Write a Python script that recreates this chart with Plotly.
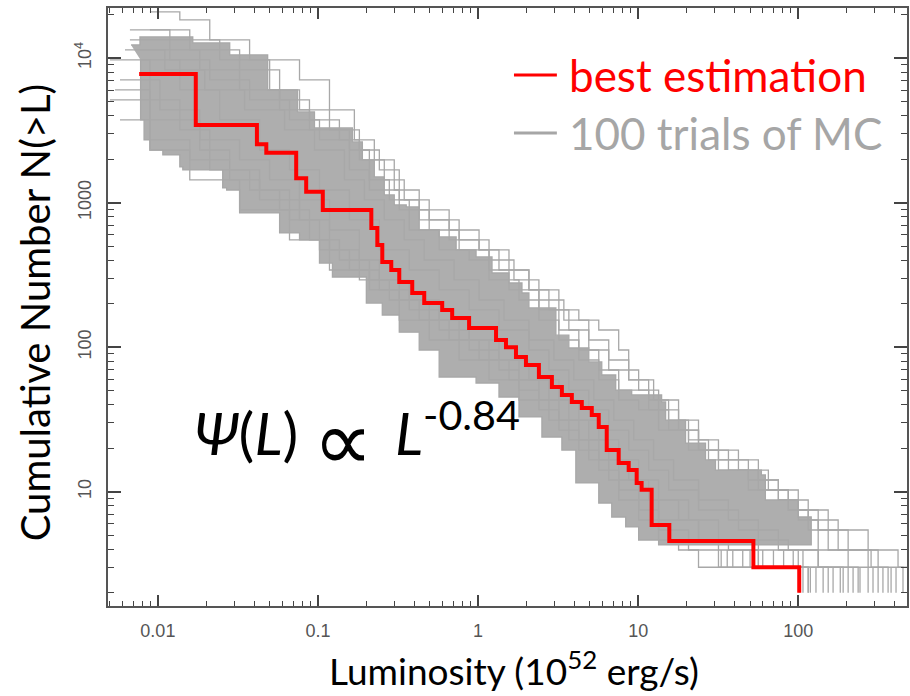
import plotly.graph_objects as go

# ---------------- data ----------------
# best estimation: step curve, (L at which each level starts, N level)
RED_L = [0.00764, 0.01725, 0.04156, 0.04756, 0.0731, 0.0844, 0.1072, 0.2154, 0.2348,
         0.2522, 0.2870, 0.3220, 0.388, 0.461, 0.597, 0.689, 0.879, 1.295, 1.494, 1.725,
         1.991, 2.399, 2.891, 3.338, 3.852, 4.446, 5.132, 5.674, 6.363, 7.557, 8.726,
         9.788, 10.51, 12.14, 15.65, 52.45, 101.4]
RED_N = [7780, 3450, 2537, 2218, 1475, 1192, 890, 668, 510,
         389, 342, 283, 237, 202, 181, 159, 136, 112, 100, 85.5,
         75.3, 62.2, 53.0, 46.7, 41.8, 37.9, 33.9, 28.0, 19.4, 15.8, 14.1,
         11.5, 10.3, 5.88, 4.56, 3.0, 2.0]

# dense core of the 100 Monte-Carlo trials (outline of the grey band)
BAND_L = [0.0068, 0.00773, 0.01473, 0.01652, 0.0281, 0.0485, 0.0745, 0.0951, 0.1641,
          0.1894, 0.2249, 0.2596, 0.2996, 0.3559, 0.4289, 0.5715, 0.7295, 0.9716, 1.222,
          1.56, 1.88, 2.078, 3.062, 3.69, 4.916, 5.924, 7.24, 9.111, 14.01, 14.84, 19.77,
          26.34, 30.4, 58.83, 62.3, 100, 120.5, 120.5,
          17.88, 13.42, 10.07, 8.358, 6.837, 5.674, 4.08, 3.338, 2.505, 1.801, 1.351,
          0.9716, 0.5715, 0.4289, 0.322, 0.2522, 0.2005, 0.1231, 0.1022, 0.0767, 0.0576,
          0.0339, 0.0324, 0.0269, 0.0254, 0.01431, 0.01371, 0.01074, 0.00892, 0.0082,
          0.0078]
BAND_N = [12340, 14020, 14020, 12741, 10522, 6026, 4243, 3289, 2630,
          1975, 1506, 1131, 964, 934, 647, 579, 471, 421, 326,
          278, 237, 187, 121, 98.7, 79.0, 64.2, 50.5, 46.7, 41.8, 31.3, 21.7,
          16.6, 14.1, 13.05, 8.76, 6.68, 5.18, 4.28,
          4.28, 4.63, 5.70, 6.68, 8.35, 11.5, 19.4, 23.9, 32.9, 45.2, 56.5,
          62.2, 95.6, 127, 167, 202, 306, 382, 552, 617, 849,
          849, 1224, 1264, 1684, 1767, 2138, 2315, 2716, 3735,
          9716]

# individual Monte-Carlo trials that stand out of the band
T1_L = [0.00669, 0.01188, 0.02434, 0.0499, 0.0767, 0.118, 0.1814, 0.2417, 0.322, 0.4289,
        0.6597, 1.0144, 1.351, 2.078, 3.197, 4.259, 5.674, 7.557, 8.726, 11.63, 15.49,
        20.63, 27.5, 56.35, 75.1, 115.4, 133.2, 285, 745]
T1_N = [15675, 13366, 9716, 6026, 4381, 3185, 2315, 1684, 1044, 759, 552, 471, 342, 249,
        181, 154, 131.5, 95.6, 59.3, 43.1, 31.3, 22.8, 16.6, 12.05, 8.76, 6.37, 3.95, 3.0, 2.0]
T2_L = [0.00502, 0.00892, 0.01582, 0.0324, 0.0664, 0.118, 0.2094, 0.322, 0.4951, 0.7615,
        1.171, 1.801, 2.77, 3.69, 4.916, 6.55, 7.557, 10.07, 13.42, 17.88, 23.82, 115.4]
T2_N = [5137, 2716, 1436, 890, 552, 342, 249, 154, 112.1, 81.5, 59.3, 43.1, 31.3, 22.8,
        16.6, 12.05, 8.76, 6.37, 4.63, 3.95, 3.0, 2.0]
T3_L = [0.00773, 0.01826, 0.0324, 0.0576, 0.0885, 0.1572, 0.2094, 0.279, 0.3717, 0.5715,
        0.879, 1.171, 1.801, 2.399, 3.197, 4.259, 5.674, 7.557, 10.07, 13.42, 20.63, 31.74,
        48.8, 86.6, 133.2, 204.9, 315.3, 364.0]
T3_N = [11397, 8286, 6026, 4381, 3185, 2315, 1436, 1044, 647, 471, 401, 292, 212, 154,
        112.1, 81.5, 59.3, 43.1, 36.8, 26.7, 19.4, 14.1, 10.27, 7.47, 5.43, 3.95, 3.0, 2.0]
T4_L = [0.0058, 0.01029, 0.01826, 0.0281, 0.0432, 0.0767, 0.118, 0.1814, 0.279, 0.4289,
        0.6597, 1.0144, 1.56, 2.399, 3.197, 4.259, 5.674, 7.557, 10.07, 13.42, 23.82, 31.74,
        56.35, 101.4]
T4_N = [7066, 4381, 2315, 1436, 1044, 759, 471, 292, 212, 154, 112.1, 81.5, 59.3, 43.1,
        31.3, 22.8, 16.6, 12.05, 8.76, 6.37, 4.63, 3.95, 3.0, 2.0]
T5_L = [0.00669, 0.01188, 0.02109, 0.0374, 0.0664, 0.1022, 0.1572, 0.2094, 0.322, 0.4951,
        0.7615, 1.171, 1.56, 2.399, 3.197, 4.259, 5.674, 7.557, 11.63, 15.49, 23.82, 36.64,
        56.35, 86.6, 115.4, 153.8, 204.9, 236.6]
T5_N = [13366, 9716, 7066, 5137, 3735, 2716, 1684, 1224, 890, 647, 471, 342, 249, 181,
        131.5, 95.6, 69.5, 50.5, 36.8, 26.7, 19.4, 14.1, 10.27, 7.47, 5.43, 3.95, 3.0, 2.0]
T6_L = [0.00773, 0.01371, 0.02434, 0.0432, 0.0664, 0.1022, 0.1572, 0.2417, 0.3717, 0.5715,
        0.879, 1.351, 2.078, 2.77, 3.69, 4.916, 6.55, 8.726, 11.63, 15.49, 23.82, 42.3,
        75.1, 133.2, 190.7]
T6_N = [9716, 6026, 3735, 2315, 1684, 1224, 759, 471, 342, 249, 181, 131.5, 95.6, 69.5,
        50.5, 36.8, 26.7, 19.4, 14.1, 10.27, 7.47, 5.43, 3.95, 3.0, 2.0]
T7_L = [0.00502, 0.00892, 0.01371, 0.02109, 0.0374, 0.0576, 0.0885, 0.1361, 0.2094, 0.322,
        0.4951, 0.7615, 1.171, 1.801, 2.77, 3.69, 4.916, 6.55, 8.726, 11.63, 17.88, 23.82,
        36.64, 56.35, 115.4]
T7_N = [9716, 5137, 3185, 1684, 1224, 890, 552, 401, 292, 212, 154, 112.1, 81.5, 59.3,
        43.1, 31.3, 22.8, 16.6, 12.05, 8.76, 6.37, 4.63, 3.95, 3.0, 2.0]
T8_L = [0.00892, 0.01371, 0.02109, 0.0374, 0.0767, 0.118, 0.1688, 0.2249, 0.2996, 0.4289,
        0.6597, 1.0144, 1.56, 2.078, 2.77, 3.69, 4.916, 6.55, 10.07, 13.42, 17.88, 23.82,
        42.3, 65.05, 100, 153.8, 273.1, 420, 451]
T8_N = [20880, 18380, 13366, 9716, 7066, 4381, 2716, 1975, 1224, 890, 647, 471, 342, 249,
        181, 131.5, 95.6, 69.5, 50.5, 36.8, 26.7, 19.4, 14.1, 10.27, 7.47, 5.43, 3.95, 3.0, 2.0]
T9_L = [0.0058, 0.00892, 0.01582, 0.0281, 0.0432, 0.0664, 0.1022, 0.1572, 0.2417, 0.3717,
        0.5715, 0.879, 1.351, 1.801, 2.399, 3.197, 4.259, 5.674, 7.557, 10.07, 13.42, 20.63,
        31.74, 153.8]
T9_N = [3735, 2315, 1975, 1684, 1224, 759, 471, 342, 249, 181, 131.5, 95.6, 69.5, 50.5,
        36.8, 26.7, 19.4, 14.1, 10.27, 7.47, 5.43, 3.95, 3.0, 2.0]
T10_L = [0.00892, 0.01582, 0.0324, 0.0576, 0.0885, 0.1361, 0.1814, 0.2596, 0.3458, 0.4951,
         0.7615, 1.171, 1.676, 2.399, 3.434, 4.916, 6.55, 8.726, 12.49, 17.88, 23.82, 31.74,
         48.8, 75.1, 100, 177.5, 273.1, 315.3]
T10_N = [15675, 11397, 8286, 5137, 3735, 2716, 1975, 1436, 1044, 759, 552, 401, 292, 212,
         154, 112.1, 81.5, 59.3, 43.1, 31.3, 22.8, 16.6, 12.05, 8.76, 6.37, 3.95, 3.0, 2.0]
T11_L = [0.0054, 0.00892, 0.01826, 0.0324, 0.0499, 0.0767, 0.118, 0.1814, 0.2417, 0.3717,
         0.5715, 0.879, 1.351, 2.078, 3.197, 4.259, 5.674, 7.557, 10.07, 13.42, 20.63, 31.74,
         56.35, 100, 273.1]
T11_N = [6026, 3735, 2716, 1975, 1436, 1044, 647, 401, 292, 212, 154, 112.1, 81.5, 59.3,
         43.1, 31.3, 22.8, 16.6, 12.05, 8.76, 6.37, 4.63, 3.95, 3.0, 2.0]
T12_L = [0.00623, 0.01105, 0.01963, 0.03483, 0.0618, 0.0951, 0.1463, 0.1949, 0.2596, 0.3458,
         0.461, 0.7087, 1.0144, 1.452, 2.078, 2.975, 3.964, 5.28, 7.04, 9.376, 12.49, 16.64,
         23.82, 36.64, 56.35, 86.6, 133.2, 204.9]
T12_N = [11397, 8286, 6026, 4381, 3185, 2315, 1436, 1044, 759, 552, 401, 292, 212, 154,
         112.1, 81.5, 59.3, 43.1, 31.3, 22.8, 16.6, 12.05, 8.76, 6.37, 4.63, 3.95, 3.0, 2.0]

TRIALS = [(T1_L, T1_N), (T2_L, T2_N), (T3_L, T3_N), (T4_L, T4_N), (T5_L, T5_N),
          (T6_L, T6_N), (T7_L, T7_N), (T8_L, T8_N), (T9_L, T9_N), (T10_L, T10_N),
          (T11_L, T11_N), (T12_L, T12_N)]

# last drops of further trials (L where N falls 3 -> 2, and 3.95 -> 3)
TAIL_DROP_L = [107, 119, 129, 143, 165, 183, 220, 243, 293, 338, 380, 408]
MID_DROP_L = [33, 36, 39, 45, 50, 60, 70, 81, 93, 107]

X_TICKS = [0.01, 0.1, 1, 10, 100]
X_TICKTEXT = ["0.01", "0.1", "1", "10", "100"]
Y_TICKS = [10, 100, 1000, 10000]
Y_TICKTEXT = ["10", "100", "1000", "10<sup>4</sup>"]

# ---------------- figure ----------------
GREY = "rgb(168,168,168)"
fig = go.Figure()

fig.add_trace(go.Scatter(x=BAND_L, y=BAND_N, mode="lines", fill="toself", line_shape="hv",
                         fillcolor="rgb(174,174,174)", line=dict(color=GREY, width=1.3),
                         hoverinfo="skip", showlegend=False))

for tl, tn in TRIALS:
    assert len(tl) == len(tn)
    fig.add_trace(go.Scatter(x=tl, y=tn, mode="lines", line_shape="hv",
                             line=dict(color=GREY, width=1.3),
                             hoverinfo="skip", showlegend=False))

tx, ty = [], []
for v in TAIL_DROP_L:
    tx += [v, v, None]
    ty += [3.0, 2.0, None]
for v in MID_DROP_L:
    tx += [v, v, None]
    ty += [3.95, 3.0, None]
fig.add_trace(go.Scatter(x=tx, y=ty, mode="lines", line=dict(color=GREY, width=1.3),
                         hoverinfo="skip", showlegend=False))

fig.add_trace(go.Scatter(x=RED_L, y=RED_N, mode="lines", line_shape="hv",
                         line=dict(color="#ff0000", width=4),
                         hoverinfo="skip", showlegend=False))

minor_x = [d * 10.0 ** e for e in range(-3, 3) for d in range(2, 10)]
minor_y = [d * 10.0 ** e for e in range(0, 5) for d in range(2, 10)]

axis_common = dict(type="log", showline=True, linecolor="#555555", linewidth=2,
                   mirror="allticks", ticks="inside", tickcolor="#444444", tickwidth=1.5,
                   showgrid=False, zeroline=False,
                   tickfont=dict(family="Liberation Sans", size=18, color="#555555"))

fig.update_xaxes(**axis_common, range=[-2.3115, 2.6792], tickmode="array",
                 tickvals=X_TICKS, ticktext=X_TICKTEXT, ticklen=11,
                 ticklabelstandoff=7,
                 minor=dict(tickmode="array", tickvals=minor_x, ticks="inside",
                            ticklen=5, tickwidth=1.2, tickcolor="#444444", showgrid=False))
fig.update_yaxes(**axis_common, range=[0.209, 4.347], tickmode="array",
                 tickvals=Y_TICKS, ticktext=Y_TICKTEXT, ticklen=13, tickangle=-90,
                 ticklabelstandoff=8,
                 minor=dict(tickmode="array", tickvals=minor_y, ticks="inside",
                            ticklen=6, tickwidth=1.2, tickcolor="#444444", showgrid=False))

TITLE_FONT = "Lato, 'Open Sans', sans-serif"
annos = [
    dict(text="Luminosity (10<sup>52</sup> erg/s)", x=0.508, y=-0.104, xref="paper",
         yref="paper", xanchor="center", yanchor="middle", showarrow=False,
         font=dict(family=TITLE_FONT, size=37, color="black")),
    dict(text="Cumulative Number N(>L)", x=-0.091, y=0.4916, xref="paper", yref="paper",
         xanchor="center", yanchor="middle", textangle=-90, showarrow=False,
         font=dict(family=TITLE_FONT, size=40, color="black")),
    dict(text="best estimation", x=0.5743, y=0.888, xref="paper", yref="paper",
         xanchor="left", yanchor="middle", showarrow=False,
         font=dict(family=TITLE_FONT, size=44, color="#ff0000")),
    dict(text="100 trials of MC", x=0.5743, y=0.791, xref="paper", yref="paper",
         xanchor="left", yanchor="middle", showarrow=False,
         font=dict(family=TITLE_FONT, size=44, color="#a6a6a6")),
    dict(text="<i>Ψ</i>(<i>L</i>)", x=0.1048, y=0.2274, xref="paper", yref="paper",
         xanchor="left", yanchor="bottom", showarrow=False,
         font=dict(family=TITLE_FONT, size=59, color="black")),
    dict(text="∝", x=0.2946, y=0.276, xref="paper", yref="paper",
         xanchor="center", yanchor="middle", showarrow=False,
         font=dict(family="DejaVu Sans", size=84, color="black")),
    dict(text="<i>L</i><sup>-0.84</sup>", x=0.357, y=0.2274, xref="paper", yref="paper",
         xanchor="left", yanchor="bottom", showarrow=False,
         font=dict(family=TITLE_FONT, size=59, color="black")),
]

shapes = [
    dict(type="line", xref="paper", yref="paper", x0=0.5081, x1=0.5618, y0=0.888, y1=0.888,
         line=dict(color="#ff0000", width=3)),
    dict(type="line", xref="paper", yref="paper", x0=0.5081, x1=0.5618, y0=0.791, y1=0.791,
         line=dict(color="#a6a6a6", width=3)),
]

fig.update_layout(width=910, height=696, margin=dict(l=108, r=1, t=8, b=90),
                  paper_bgcolor="white", plot_bgcolor="white", showlegend=False,
                  annotations=annos, shapes=shapes)

fig.write_html("out.html")
